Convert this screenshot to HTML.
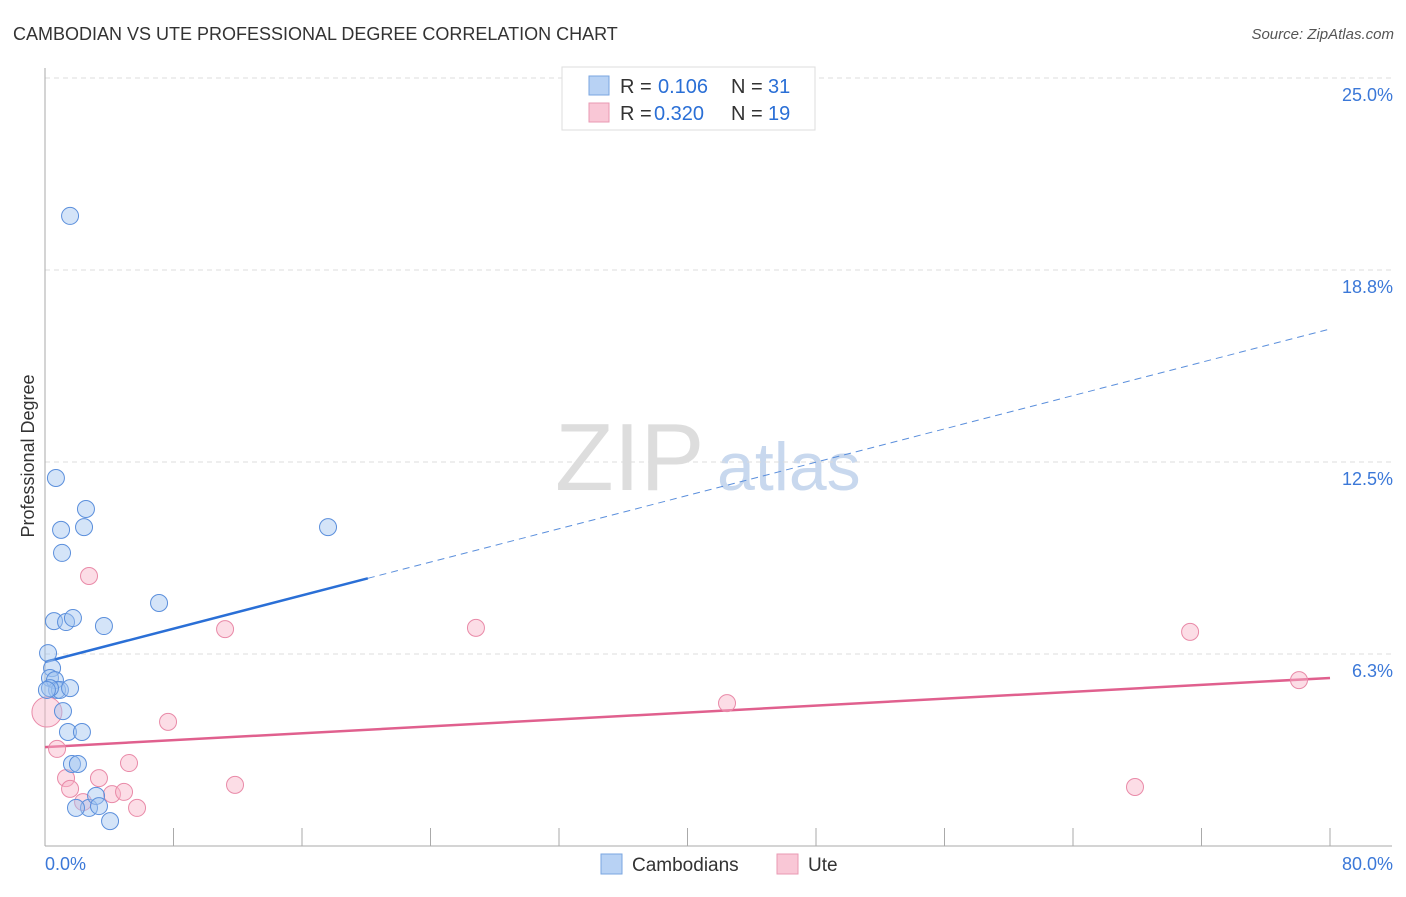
<!DOCTYPE html>
<html><head><meta charset="utf-8"><style>
body{margin:0;background:#fff;font-family:"Liberation Sans",sans-serif;}
svg text{font-family:"Liberation Sans",sans-serif;}
</style></head><body>
<svg id="chart" width="1406" height="892" xmlns="http://www.w3.org/2000/svg">
<text x="13" y="40" font-size="18" fill="#333">CAMBODIAN VS UTE PROFESSIONAL DEGREE CORRELATION CHART</text>
<text x="1394" y="39" font-size="15" fill="#555" font-style="italic" text-anchor="end">Source: ZipAtlas.com</text>
<text x="555" y="490" font-size="96" fill="#ddd" font-family="Liberation Serif">ZIP</text>
<text x="717" y="490" font-size="68" fill="#c8d8ee">atlas</text>
<text transform="translate(34,456) rotate(-90)" font-size="18" fill="#333" text-anchor="middle">Professional Degree</text>
<g id="grid"></g><g id="axes"></g><g id="lines"></g><g id="pts"></g>
<g>
<rect x="562" y="67" width="253" height="63" fill="#fff" stroke="#ddd"/>
<rect x="589" y="76" width="20" height="19" fill="#b8d2f4" stroke="#7aa6e0"/>
<text x="620" y="93" font-size="20" fill="#333">R = </text><text x="658" y="93" font-size="20" fill="#2a6fd6">0.106</text>
<text x="731" y="93" font-size="20" fill="#333">N = </text><text x="768" y="93" font-size="20" fill="#2a6fd6">31</text>
<rect x="589" y="103" width="20" height="19" fill="#f9c7d6" stroke="#e99ab3"/>
<text x="620" y="120" font-size="20" fill="#333">R = </text><text x="654" y="120" font-size="20" fill="#2a6fd6">0.320</text>
<text x="731" y="120" font-size="20" fill="#333">N = </text><text x="768" y="120" font-size="20" fill="#2a6fd6">19</text>
</g>
<g>
<rect x="601" y="854" width="21" height="20" fill="#b8d2f4" stroke="#7aa6e0"/>
<text x="632" y="871" font-size="19" fill="#333">Cambodians</text>
<rect x="777" y="854" width="21" height="20" fill="#f9c7d6" stroke="#e99ab3"/>
<text x="808" y="871" font-size="19" fill="#333">Ute</text>
</g>
</svg>
<script>
const yTicks=[6.25,12.5,18.75,25];
const yTickLabels=["6.3%","12.5%","18.8%","25.0%"];
const xTicks=[0,8,16,24,32,40,48,56,64,72,80];
const cambX=[1.56,0.68,2.55,1.00,2.43,17.62,1.06,7.10,0.56,1.31,1.74,3.67,0.19,0.44,0.31,0.62,0.75,0.93,1.56,1.12,1.43,2.30,1.68,2.05,2.74,1.93,3.18,3.36,4.05,0.31,0.12];
const cambY=[20.51,11.98,10.97,10.29,10.38,10.38,9.54,7.91,7.32,7.29,7.42,7.16,6.28,5.79,5.47,5.40,5.08,5.08,5.14,4.39,3.71,3.71,2.67,2.67,1.24,1.24,1.63,1.30,0.81,5.14,5.08];
const uteX=[0.12,2.74,11.21,26.83,71.29,78.07,7.66,42.46,0.75,1.31,3.36,5.23,1.56,11.83,4.17,4.92,2.37,5.73,67.86];
const uteY=[4.36,8.79,7.06,7.10,6.97,5.40,4.04,4.65,3.16,2.21,2.21,2.70,1.86,1.99,1.69,1.76,1.43,1.24,1.92];
const cambTrend=[5.99,16.83]; const cambSolidEnd=20.1;
const uteTrend=[3.22,5.47];
const X=v=>45+v/80*1285, Y=v=>846-v/25*768;
const NS="http://www.w3.org/2000/svg";
function mk(p,t,a){const e=document.createElementNS(NS,t);for(const k in a)e.setAttribute(k,a[k]);document.getElementById(p).appendChild(e);return e;}
yTicks.forEach((t,i)=>{
 const l=mk('grid','line',{x1:45,x2:1392,y1:Y(t),y2:Y(t),stroke:'#ddd','stroke-dasharray':'5,4'});
 
 
 const tx=mk('grid','text',{x:1393,y:Y(t)+23,'font-size':18,fill:'#3b78d8','text-anchor':'end'});
 tx.textContent=yTickLabels[i];
 
 
});
const ya=mk('axes','line',{x1:45,x2:45,y1:68,y2:846,stroke:'#aaa'});


const xa=mk('axes','line',{x1:45,x2:1392,y1:846,y2:846,stroke:'#aaa'});


xTicks.forEach(t=>{
 const l=mk('axes','line',{x1:X(t),x2:X(t),y1:828,y2:846,stroke:'#aaa'});
 
 
});
[[0,'0.0%','start',45],[80,'80.0%','end',1393]].forEach(a=>{
 const tx=mk('axes','text',{x:a[3],y:870,'font-size':18,fill:'#3b78d8','text-anchor':a[2]});
 tx.textContent=a[1];
 
 
});
const lerp=(t,v)=>t[0]+(t[1]-t[0])*v/80;
let l1=mk('lines','line',{x1:X(0),y1:Y(lerp(cambTrend,0)),x2:X(cambSolidEnd),y2:Y(lerp(cambTrend,cambSolidEnd)),stroke:'#2a6fd6','stroke-width':2.5});


let l2=mk('lines','line',{x1:X(cambSolidEnd),y1:Y(lerp(cambTrend,cambSolidEnd)),x2:X(80),y2:Y(lerp(cambTrend,80)),stroke:'#5b8fdc','stroke-width':1,'stroke-dasharray':'7,5'});


let l3=mk('lines','line',{x1:X(0),y1:Y(uteTrend[0]),x2:X(80),y2:Y(uteTrend[1]),stroke:'#e0608e','stroke-width':2.5});


uteX.forEach((x,i)=>{
 const c=mk('pts','circle',{cx:X(x),cy:Y(uteY[i]),r:i===0?15:8.5,fill:'rgba(248,180,200,0.45)',stroke:'#e98aa8','stroke-width':1});
 
 
});
cambX.forEach((x,i)=>{
 const c=mk('pts','circle',{cx:X(x),cy:Y(cambY[i]),r:8.5,fill:'rgba(160,195,240,0.45)',stroke:'#5b8fdc','stroke-width':1});
 
 
});
</script>
</body></html>
